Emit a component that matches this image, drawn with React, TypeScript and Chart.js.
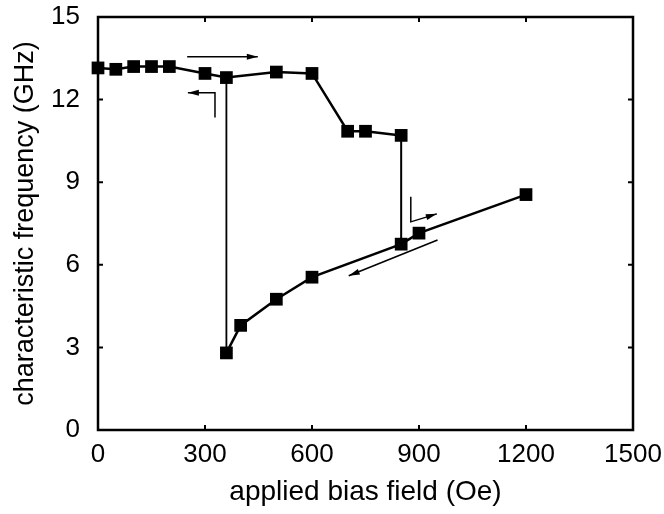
import React, { useEffect, useRef } from "react";
import { Chart, registerables } from "chart.js";

Chart.register(...registerables);

const xTicks = [0, 300, 600, 900, 1200, 1500];
const yTicks = [0, 3, 6, 9, 12, 15];

const upperField = [0, 50, 100, 150, 200, 300, 360, 500, 600, 700, 750, 850];
const upperFreq = [13.15, 13.1, 13.2, 13.2, 13.2, 12.95, 12.8, 13.0, 12.95, 10.85, 10.85, 10.7];

const lowerField = [360, 400, 500, 600, 850, 900, 1200];
const lowerFreq = [2.8, 3.8, 4.75, 5.55, 6.75, 7.15, 8.55];

const jumpLowField = [360, 360];
const jumpLowFreq = [12.8, 2.8];
const jumpHighField = [850, 850];
const jumpHighFreq = [10.7, 6.75];

// arrow polylines (data coordinates), arrowhead at the last point
const arrowRight = [[250, 13.56], [448, 13.56]];
const arrowLeftHook = [[328, 11.35], [328, 12.25], [252, 12.25]];
const arrowRightHook = [[877, 8.47], [877, 7.56], [950, 7.85]];
const arrowDiagonal = [[952, 6.9], [703, 5.6]];
const arrows = [arrowRight, arrowLeftHook, arrowRightHook, arrowDiagonal];

const FONT = "'Liberation Sans', Arial, Helvetica, sans-serif";

const toPts = (xs: number[], ys: number[]) => xs.map((x, i) => ({ x, y: ys[i] }));

const framePlugin = {
  id: "frame",
  beforeDatasetsDraw(chart: any) {
    const { ctx, chartArea: a, scales } = chart;
    const xs = scales.x, ys = scales.y;
    ctx.save();
    ctx.strokeStyle = "#000";
    ctx.lineWidth = 2.5;
    ctx.strokeRect(a.left, a.top, a.right - a.left, a.bottom - a.top);
    ctx.lineWidth = 2;
    const L = 5;
    ctx.beginPath();
    xTicks.forEach((t) => {
      const px = xs.getPixelForValue(t);
      ctx.moveTo(px, a.bottom);
      ctx.lineTo(px, a.bottom - L);
      ctx.moveTo(px, a.top);
      ctx.lineTo(px, a.top + L);
    });
    yTicks.forEach((t) => {
      const py = ys.getPixelForValue(t);
      ctx.moveTo(a.left, py);
      ctx.lineTo(a.left + L, py);
      ctx.moveTo(a.right, py);
      ctx.lineTo(a.right - L, py);
    });
    ctx.stroke();
    ctx.restore();
  },
};

const arrowPlugin = {
  id: "arrows",
  afterDatasetsDraw(chart: any) {
    const { ctx, scales } = chart;
    const xs = scales.x, ys = scales.y;
    ctx.save();
    ctx.strokeStyle = "#000";
    ctx.fillStyle = "#000";
    ctx.lineWidth = 1.5;
    arrows.forEach((path) => {
      const pts = path.map(([x, y]) => [xs.getPixelForValue(x), ys.getPixelForValue(y)]);
      ctx.beginPath();
      pts.forEach(([px, py], i) => (i === 0 ? ctx.moveTo(px, py) : ctx.lineTo(px, py)));
      ctx.stroke();
      const [x1, y1] = pts[pts.length - 1];
      const [x0, y0] = pts[pts.length - 2];
      const ang = Math.atan2(y1 - y0, x1 - x0);
      const len = 11, half = 3;
      ctx.beginPath();
      ctx.moveTo(x1, y1);
      ctx.lineTo(x1 - len * Math.cos(ang) + half * Math.sin(ang), y1 - len * Math.sin(ang) - half * Math.cos(ang));
      ctx.lineTo(x1 - len * Math.cos(ang) - half * Math.sin(ang), y1 - len * Math.sin(ang) + half * Math.cos(ang));
      ctx.closePath();
      ctx.fill();
    });
    ctx.restore();
  },
};

export default function App() {
  const ref = useRef<HTMLCanvasElement | null>(null);
  useEffect(() => {
    document.body.style.margin = "0";
    const canvas = ref.current;
    if (!canvas) return;
    const markerStyle = {
      borderColor: "#000",
      backgroundColor: "#000",
      pointStyle: "rect" as const,
      pointRadius: 9,
      pointBorderWidth: 0,
      pointBackgroundColor: "#000",
      borderWidth: 2.5,
      clip: false as any,
    };
    const chart = new Chart(canvas, {
      type: "line",
      data: {
        datasets: [
          { ...markerStyle, data: toPts(upperField, upperFreq) },
          { ...markerStyle, data: toPts(lowerField, lowerFreq) },
          { borderColor: "#000", borderWidth: 1.8, pointRadius: 0, clip: false as any, data: toPts(jumpLowField, jumpLowFreq) },
          { borderColor: "#000", borderWidth: 2, pointRadius: 0, clip: false as any, data: toPts(jumpHighField, jumpHighFreq) },
        ],
      },
      options: {
        animation: false,
        responsive: false,
        parsing: false as any,
        layout: { padding: { top: 17, right: 31, left: 0, bottom: 0 } },
        plugins: { legend: { display: false }, tooltip: { enabled: false } },
        scales: {
          x: {
            type: "linear",
            min: 0,
            max: 1500,
            afterBuildTicks: (s: any) => { s.ticks = xTicks.map((v) => ({ value: v })); },
            ticks: { color: "#000", font: { family: FONT, size: 26 }, padding: 1, maxRotation: 0, callback: (v: any) => String(v) },
            grid: { display: false },
            border: { display: false },
            title: { display: true, text: "applied bias field (Oe)", color: "#000", font: { family: FONT, size: 28 }, padding: { top: 0, bottom: 5 } },
            afterFit: (s: any) => { s.height = 84; s.paddingLeft = 0; s.paddingRight = 0; },
          },
          y: {
            type: "linear",
            min: 0,
            max: 15,
            afterBuildTicks: (s: any) => { s.ticks = yTicks.map((v) => ({ value: v })); },
            ticks: { color: "#000", font: { family: FONT, size: 26 }, padding: 10, callback: (v: any) => String(v) },
            grid: { display: false },
            border: { display: false },
            title: { display: true, text: "characteristic frequency (GHz)", color: "#000", font: { family: FONT, size: 27 }, padding: { top: 9, bottom: 0 } },
            afterFit: (s: any) => { s.width = 98; s.paddingTop = 0; s.paddingBottom = 0; },
          },
        },
      },
      plugins: [framePlugin, arrowPlugin],
    });
    return () => chart.destroy();
  }, []);
  return <canvas ref={ref} width={664} height={514} style={{ display: "block" }} />;
}
